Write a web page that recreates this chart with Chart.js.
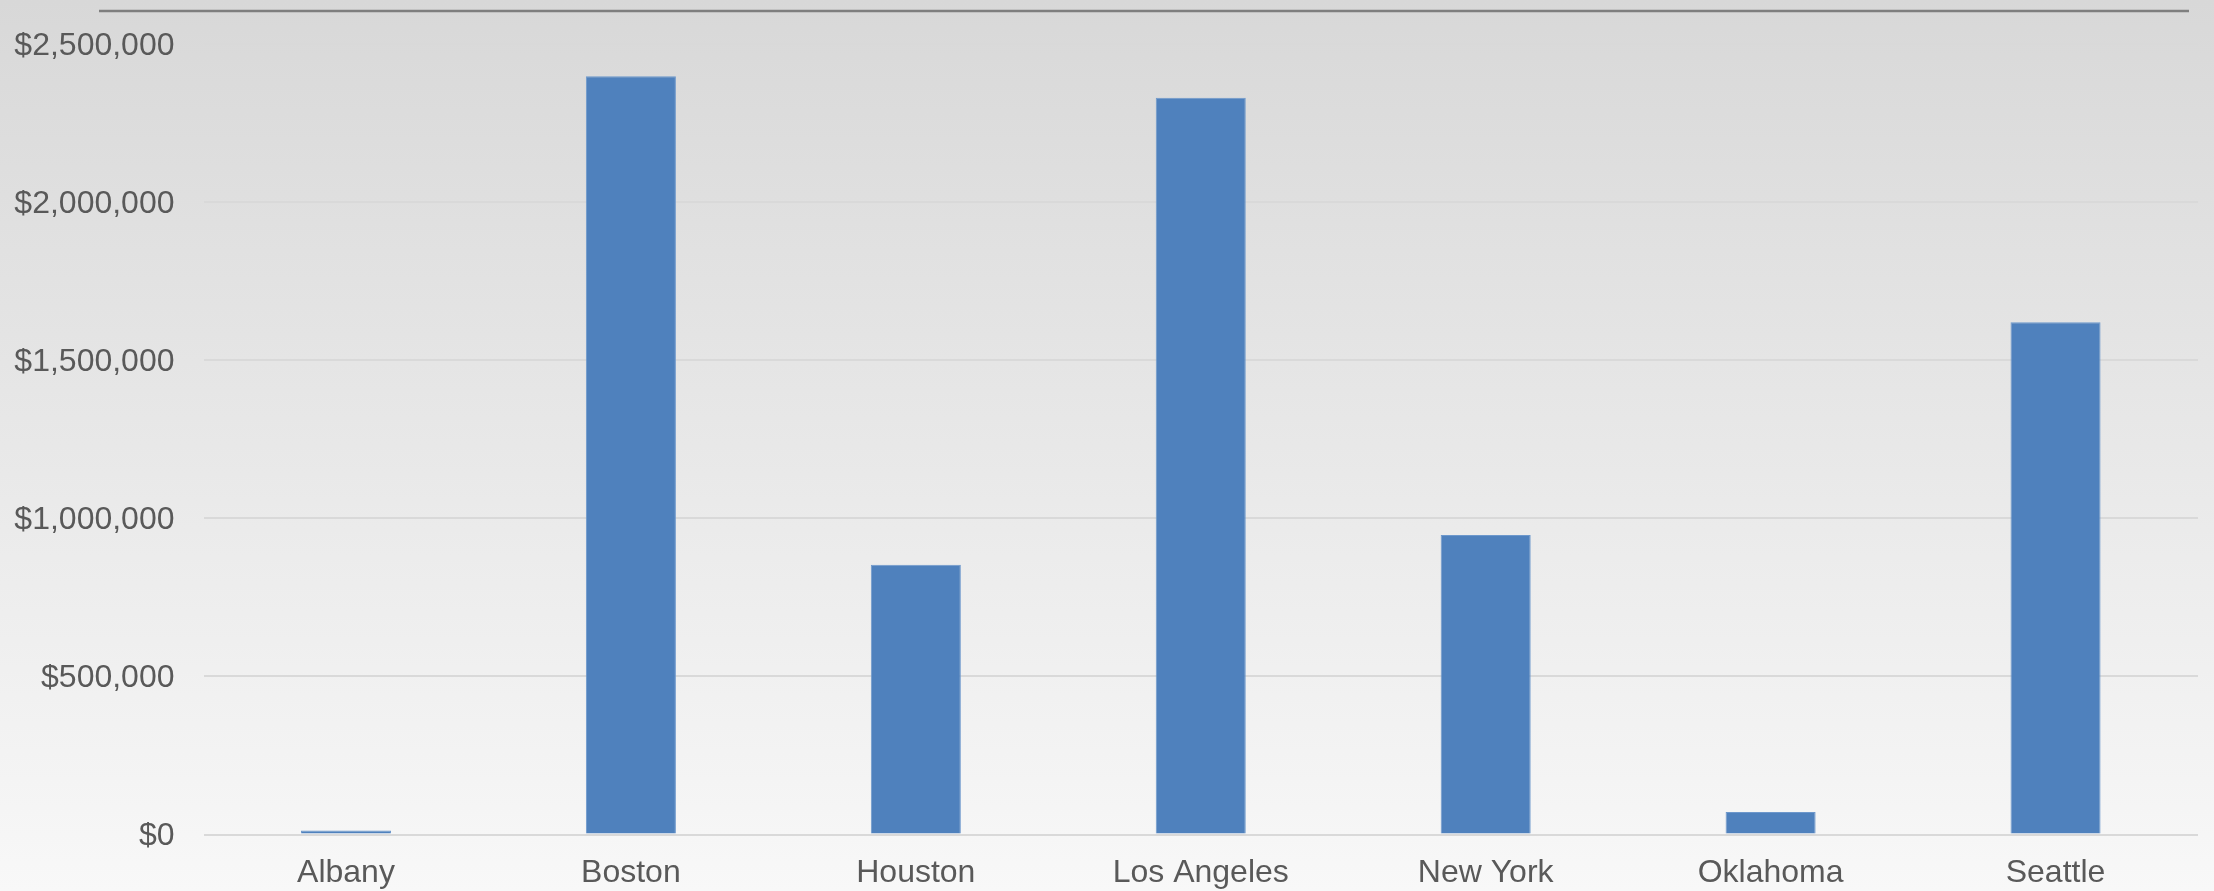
<!DOCTYPE html>
<html>
<head>
<meta charset="utf-8">
<script src="https://cdn.jsdelivr.net/npm/chart.js@4/dist/chart.umd.min.js"></script>
<style>
  html, body { margin: 0; padding: 0; background: #f8f8f8; }
  canvas { display: block; }
</style>
</head>
<body>
<canvas id="salesChart" width="2214" height="891"></canvas>
<script>
const cities = ['Albany', 'Boston', 'Houston', 'Los Angeles', 'New York', 'Oklahoma', 'Seattle'];
const sales = [13000, 2398000, 853000, 2330000, 947000, 71000, 1620000];
const yTicks = [0, 500000, 1000000, 1500000, 2000000, 2500000];

const FONT = "'Liberation Sans', Arial, sans-serif";

function formatDollars(value) {
    return '$' + Number(value).toLocaleString('en-US');
}

// grey vertical gradient behind everything, plus the dark rule across the top
const backdrop = {
    id: 'backdrop',
    beforeDraw: function(chart) {
        const ctx = chart.ctx;
        const h = chart.height;
        const w = chart.width;
        ctx.save();
        const grad = ctx.createLinearGradient(0, 0, 0, h);
        grad.addColorStop(0, '#d8d8d8');
        grad.addColorStop(1, '#f8f8f8');
        ctx.fillStyle = grad;
        ctx.fillRect(0, 0, w, h);

        ctx.strokeStyle = '#7f7f7f';
        ctx.lineWidth = 2.5;
        ctx.beginPath();
        ctx.moveTo(99, 11);
        ctx.lineTo(chart.chartArea.right - 9, 11);
        ctx.stroke();
        ctx.restore();
    }
};

const ctx = document.getElementById('salesChart').getContext('2d');
new Chart(ctx, {
    type: 'bar',
    data: {
        labels: cities,
        datasets: [{
            label: 'Sales',
            data: sales,
            backgroundColor: '#4f81bd',
            borderColor: '#6d98cc',
            borderWidth: 1,
            categoryPercentage: 1,
            barPercentage: 0.316
        }]
    },
    options: {
        responsive: false,
        animation: false,
        layout: {
            padding: { top: 44, right: 16, bottom: 0, left: 0 }
        },
        plugins: {
            legend: { display: false },
            tooltip: { enabled: false }
        },
        scales: {
            x: {
                grid: { display: false },
                border: { display: false },
                ticks: {
                    color: '#595959',
                    font: { family: FONT, size: 32 },
                    padding: 11,
                    maxRotation: 0,
                    autoSkip: false
                },
                afterFit: function(scale) {
                    scale.height = 56.5;
                }
            },
            y: {
                min: 0,
                max: 2500000,
                afterBuildTicks: function(scale) {
                    scale.ticks = yTicks.map(function(v) { return { value: v }; });
                },
                grid: {
                    color: '#d9d9d9',
                    lineWidth: 2,
                    drawTicks: false
                },
                border: { display: false },
                ticks: {
                    color: '#595959',
                    font: { family: FONT, size: 32 },
                    padding: 29,
                    labelOffset: 2,
                    callback: function(value) { return formatDollars(value); }
                },
                afterFit: function(scale) {
                    scale.width = 203.5;
                    // label padding would otherwise push the plot top down
                    scale.paddingTop = 0;
                }
            }
        }
    },
    plugins: [backdrop]
});
</script>
</body>
</html>
